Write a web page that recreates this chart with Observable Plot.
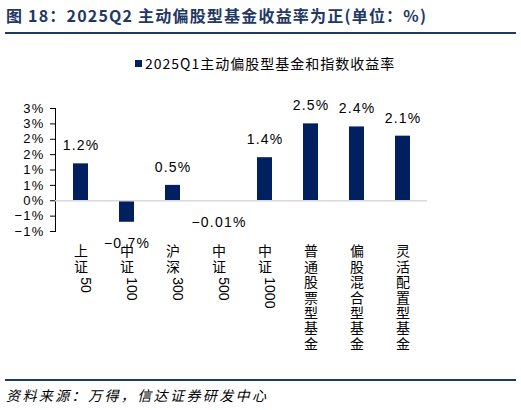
<!DOCTYPE html>
<html><head><meta charset="utf-8">
<script src="https://cdn.jsdelivr.net/npm/d3@7"></script>
<script src="https://cdn.jsdelivr.net/npm/@observablehq/plot@0.6"></script>
<style>
body{margin:0;width:521px;height:410px;position:relative;background:#fff;overflow:hidden;font-family:"Noto Sans CJK SC",sans-serif;}
#title{position:absolute;left:6px;top:3px;font-size:16px;font-weight:bold;color:#1f3864;letter-spacing:1.2px;white-space:nowrap;}
.hr{position:absolute;left:5px;width:511px;height:2px;background:#1f3864;}
#legend{position:absolute;left:135px;top:53px;font-size:14px;letter-spacing:1.0px;color:#000;white-space:nowrap;}
#legend .sw{display:inline-block;width:7px;height:7px;background:#002060;margin-right:3px;vertical-align:middle;position:relative;top:-2px;}
#chart{position:absolute;left:0;top:80px;}
#foot{position:absolute;left:6px;top:385px;font-size:14px;font-style:italic;letter-spacing:2.4px;color:#000;white-space:nowrap;}
</style></head>
<body>
<div id="title">图 18：2025Q2 主动偏股型基金收益率为正(单位：%)</div>
<div class="hr" style="top:32px"></div>
<div id="legend"><span class="sw"></span>2025Q1主动偏股型基金和指数收益率</div>
<div id="chart"></div>
<div class="hr" style="top:379px"></div>
<div id="foot">资料来源：万得，信达证券研发中心</div>
<script>
const categories = ["上证50","中证100","沪深300","中证500","中证1000","普通股票型基金","偏股混合型基金","灵活配置型基金"];
const values = [1.2, -0.7, 0.5, -0.01, 1.4, 2.5, 2.4, 2.1];
const valueLabels = ["1.2%","-0.7%","0.5%","-0.01%","1.4%","2.5%","2.4%","2.1%"];
const yTicks = [3, 2.5, 2, 1.5, 1, 0.5, 0, -0.5, -1];
const yTickLabels = ["3%","3%","2%","2%","1%","1%","0%","\u22121%","\u22121%"];

const data = categories.map((c, i) => {
  const m = c.match(/^(\D*)(\d*)$/);
  return {name: c, value: values[i], label: valueLabels[i].replace("-", "\u2212"),
          cjk: m[1].split("").join("\n"), digits: m[2]};
});
const pos = data.filter(d => d.value >= 0);
const neg = data.filter(d => d.value < 0);
const withDigits = data.filter(d => d.digits);

const lineH = 1.1, fs = 14, labelTop = 14;

const chart = Plot.plot({
  width: 521,
  height: 300,
  marginLeft: 55,
  marginRight: 94,
  marginTop: 28,
  marginBottom: 149,
  style: {fontFamily: "'Liberation Sans', Arial, sans-serif", fontSize: "13px", color: "#000", background: "transparent"},
  x: {domain: categories, paddingInner: 0.68, paddingOuter: 0.34, axis: null},
  y: {domain: [-1, 3], ticks: yTicks, label: null},
  marks: [
    Plot.axisY({ticks: yTicks, tickFormat: (d) => yTickLabels[yTicks.indexOf(d)], tickSize: 5, tickPadding: 6, label: null, stroke: "#000", fontSize: 13}),
    Plot.frame({anchor: "left", stroke: "#000"}),
    Plot.barY(data, {x: "name", y: "value", fill: "#002060"}),
    Plot.ruleY([0], {stroke: "#d9d9d9", strokeWidth: 1.5}),
    Plot.text(pos, {x: "name", y: "value", text: "label", dy: -18, fontSize: 14, fill: "#000"}),
    Plot.text(neg, {x: "name", y: "value", text: "label", dy: 21, fontSize: 14, fill: "#000"}),
    Plot.text(data, {x: "name", text: "cjk", frameAnchor: "bottom", lineAnchor: "top", lineHeight: lineH, dy: labelTop, fontSize: fs, fill: "#000", fontFamily: "'Noto Sans CJK SC', sans-serif"}),
    Plot.text(withDigits, {x: "name", text: "digits", frameAnchor: "bottom", rotate: 90, textAnchor: "start", dy: labelTop + 2 * lineH * fs + 1, fontSize: fs, fill: "#000", fontFamily: "'Liberation Sans', Arial, sans-serif"})
  ]
});
document.getElementById("chart").appendChild(chart);
chart.querySelectorAll('text').forEach(t => { if (/^[\u2212\d.]+%$/.test(t.textContent)) t.style.letterSpacing = "1.2px"; });
</script>
</body></html>
